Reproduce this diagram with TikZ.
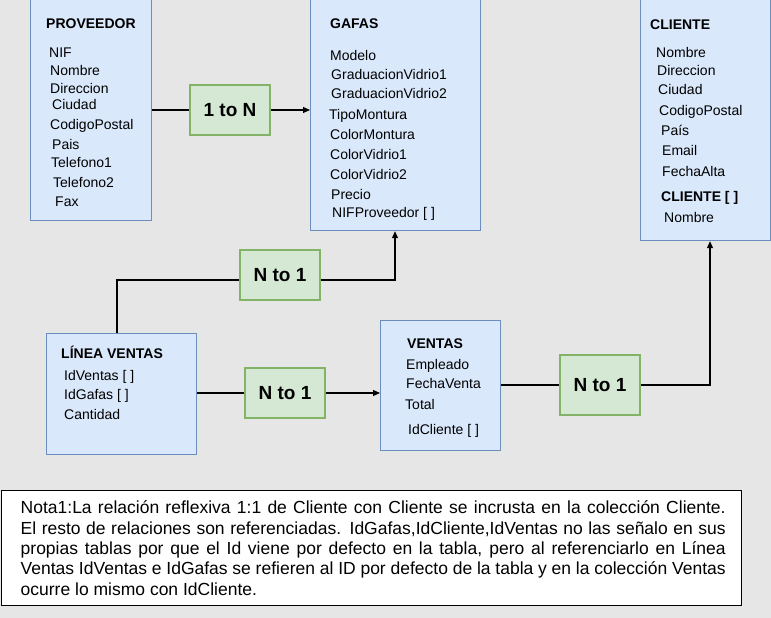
\documentclass[tikz,border=0pt]{standalone}
\usepackage{fontspec}
\setmainfont{Liberation Sans}
\usetikzlibrary{arrows.meta}
\definecolor{bg}{HTML}{E6E6E6}
\definecolor{bluefill}{HTML}{DAE8FC}
\definecolor{blueline}{HTML}{6C8EBF}
\definecolor{greenfill}{HTML}{D5E8D4}
\definecolor{greenline}{HTML}{82B366}
\begin{document}
\begin{tikzpicture}[x=1pt,y=-1pt,
  entity/.style={draw=blueline, fill=bluefill, line width=1.2pt, anchor=north west, inner sep=0pt},
  rel/.style={draw=greenline, fill=greenfill, line width=1.2pt, inner sep=0pt, font=\fontsize{19}{22}\selectfont\bfseries},
  fld/.style={anchor=base west, inner sep=0pt, font=\fontsize{14}{16}\selectfont},
  ttl/.style={anchor=base west, inner sep=0pt, font=\fontsize{14}{16}\selectfont\bfseries},
  conn/.style={line width=1.1pt, draw=black},
  arr/.style={conn, -{Triangle[length=7pt,width=6pt]}}]
\useasboundingbox[fill=bg] (0,0) rectangle (771,618);

% entities
\node[entity, minimum width=121pt, minimum height=221pt] (prov) at (30,-1) {};
\node[entity, minimum width=170pt, minimum height=231pt] (gafas) at (310,-1) {};
\node[entity, minimum width=130pt, minimum height=241pt] (cliente) at (640,-1) {};
\node[entity, minimum width=150pt, minimum height=121pt] (linea) at (46,333) {};
\node[entity, minimum width=120pt, minimum height=130pt] (ventas) at (380,320) {};

% PROVEEDOR
\node[ttl] (pt) at (46,29) {PROVEEDOR};
\node[fld] (p1) at (49,58) {NIF};
\node[fld] (p2) at (50,76) {Nombre};
\node[fld] (p3) at (50,93) {Direccion};
\node[fld] (p4) at (52,110) {Ciudad};
\node[fld] (p5) at (50,129) {CodigoPostal};
\node[fld] (p6) at (52,149) {Pais};
\node[fld] (p7) at (51,167) {Telefono1};
\node[fld] (p8) at (53,187) {Telefono2};
\node[fld] (p9) at (55,206) {Fax};

% GAFAS
\node[ttl] (gt) at (330,29) {GAFAS};
\node[fld] (g1) at (330,61) {Modelo};
\node[fld] (g2) at (331,79) {GraduacionVidrio1};
\node[fld] (g3) at (331,99) {GraduacionVidrio2};
\node[fld] (g4) at (329,119) {TipoMontura};
\node[fld] (g5) at (330,139) {ColorMontura};
\node[fld] (g6) at (330,159) {ColorVidrio1};
\node[fld] (g7) at (330,179) {ColorVidrio2};
\node[fld] (g8) at (331,199) {Precio};
\node[fld] (g9) at (332,217) {NIFProveedor [ ]};

% CLIENTE
\node[ttl] (ct) at (650,30) {CLIENTE};
\node[fld] (c1) at (656,58) {Nombre};
\node[fld] (c2) at (657,75) {Direccion};
\node[fld] (c3) at (658,95) {Ciudad};
\node[fld] (c4) at (659,115) {CodigoPostal};
\node[fld] (c5) at (661,135) {País};
\node[fld] (c6) at (662,155) {Email};
\node[fld] (c7) at (662,176) {FechaAlta};
\node[ttl] (c8) at (661,201) {CLIENTE [ ]};
\node[fld] (c9) at (664,222) {Nombre};

% LINEA VENTAS
\node[ttl] (lt) at (61,358) {LÍNEA VENTAS};
\node[fld] (l1) at (64,380) {IdVentas [ ]};
\node[fld] (l2) at (64,399) {IdGafas [ ]};
\node[fld] (l3) at (64,419) {Cantidad};

% VENTAS
\node[ttl] (vt) at (407,348) {VENTAS};
\node[fld] (v1) at (406,369) {Empleado};
\node[fld] (v2) at (406,388) {FechaVenta};
\node[fld] (v3) at (405,409) {Total};
\node[fld] (v4) at (408,434) {IdCliente [ ]};

% relation boxes
\node[rel, minimum width=80pt, minimum height=50pt] (rel1) at (230,110) {1 to N};
\node[rel, minimum width=80pt, minimum height=50pt] (rel2) at (280,275) {N to 1};
\node[rel, minimum width=80pt, minimum height=50pt] (rel3) at (285,393) {N to 1};
\node[rel, minimum width=80pt, minimum height=60pt] (rel4) at (600,385) {N to 1};

% connectors
\coordinate (k1) at (117,280);
\coordinate (k2) at (395,280);
\coordinate (k3) at (710,385);
\draw[conn] (prov.east |- rel1.west) -- (rel1.west);
\draw[arr] (rel1.east) -- (rel1.east -| gafas.west);
\draw[conn] (k1 |- linea.north) -- (k1) -- (k1 -| rel2.west);
\draw[arr] (k2 -| rel2.east) -- (k2) -- (k2 |- gafas.south);
\draw[conn] (linea.east |- rel3.west) -- (rel3.west);
\draw[arr] (rel3.east) -- (rel3.east -| ventas.west);
\draw[conn] (ventas.east |- rel4.west) -- (rel4.west);
\draw[arr] (rel4.east) -- (k3) -- (k3 |- cliente.south);

% note
\node[draw=black, fill=white, line width=1pt, anchor=north west, inner sep=0pt,
      minimum width=740pt, minimum height=115pt] (note) at (1,490) {};
\node[anchor=north west, inner sep=0pt, text width=705pt, align=justify,
      font=\fontsize{17.5}{20.3}\selectfont] (notetext) at (20.5,499.5)
{\strut Nota1:La relación reflexiva 1:1 de Cliente con Cliente se incrusta en la colección Cliente.\linebreak
El resto de relaciones son referenciadas. IdGafas,IdCliente,IdVentas no las señalo en sus\linebreak
propias tablas por que el Id viene por defecto en la tabla, pero al referenciarlo en Línea\linebreak
Ventas IdVentas e IdGafas se refieren al ID por defecto de la tabla y en la colección Ventas\linebreak
ocurre lo mismo con IdCliente.};
\end{tikzpicture}
\end{document}
